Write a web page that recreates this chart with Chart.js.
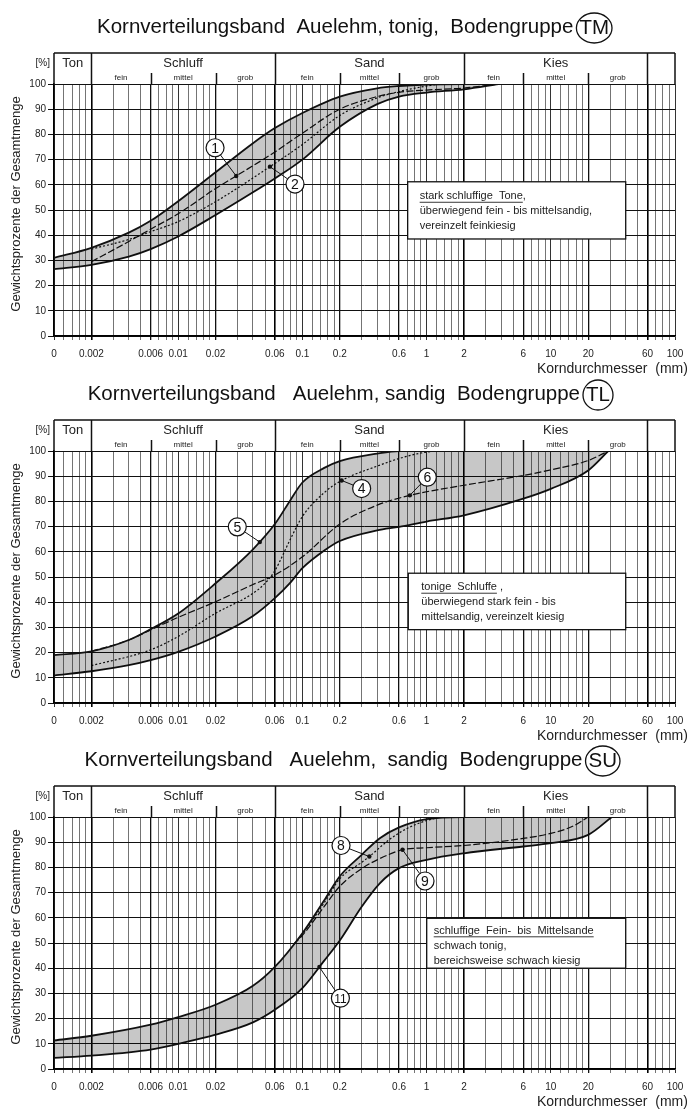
<!DOCTYPE html>
<html><head><meta charset="utf-8">
<script src="https://cdn.jsdelivr.net/npm/chart.js@4.4.0/dist/chart.umd.min.js"></script>
<style>
html,body{margin:0;padding:0;background:#fff;width:695px;height:1109px;overflow:hidden;}
#wrap{position:relative;width:695px;height:1109px;overflow:hidden;background:#fff;}
canvas{position:absolute;left:0;}
</style></head><body>
<div id="wrap">
<canvas id="cTM" width="695" height="380" style="top:0px"></canvas>
<canvas id="cTL" width="695" height="380" style="top:367px"></canvas>
<canvas id="cSU" width="695" height="380" style="top:733px"></canvas>
</div>
<script>
// ---------- axis values ----------
const xGridValues = [0.001,0.0012,0.0014,0.0016,0.0018,0.002,0.003,0.004,0.005,0.006,0.007,0.008,0.009,
  0.01,0.012,0.014,0.016,0.018,0.02,0.03,0.04,0.05,0.06,0.07,0.08,0.09,
  0.1,0.12,0.14,0.16,0.18,0.2,0.3,0.4,0.5,0.6,0.7,0.8,0.9,
  1,1.2,1.4,1.6,1.8,2,3,4,5,6,7,8,9,
  10,12,14,16,18,20,30,40,50,60,70,80,90,100];
const xLabelValues = [0.001,0.002,0.006,0.01,0.02,0.06,0.1,0.2,0.6,1,2,6,10,20,60,100];
const xLabelTexts  = ['0','0.002','0.006','0.01','0.02','0.06','0.1','0.2','0.6','1','2','6','10','20','60','100'];
const yTickValues  = [0,10,20,30,40,50,60,70,80,90,100];
const mainBounds   = [0.002,0.06,2,60];
const subBounds    = [0.006,0.02,0.2,0.6,6,20];
const decadeLines  = [0.001,0.01,0.1,1,10,100];
const groupNames   = ['Ton','Schluff','Sand','Kies'];
const groupEdges   = [0.001,0.002,0.06,2,60];
const subNames     = ['fein','mittel','grob'];

// ---------- TM ----------
const sizesTM  = [0.001,0.002,0.004,0.006,0.01,0.02,0.04,0.06,0.1,0.2,0.4,0.6,1,2,3.8];
const upperTM  = [31,35,41,45.7,53.5,65,76.5,82.5,88.5,95,98.3,99.2,99.8,100,100];
const lowerTM  = [26.5,28.2,31.5,34.5,39.5,48,57,62.5,70,83,92,95,96.6,97.9,100];
const sizesTM1 = [0.002,0.004,0.006,0.01,0.02,0.0293,0.06,0.1,0.2,0.4,0.6,1,2,3.8];
const curveTM1 = [29.5,37.5,42.4,48.5,58.5,63.5,73,80.5,90,95,96.7,97.6,98.4,100];
const sizesTM2 = [0.002,0.004,0.006,0.01,0.02,0.0548,0.1,0.2,0.4,0.6,1,1.3];
const curveTM2 = [34.5,38.3,41.4,45.4,53.3,67.2,76,87.5,94.5,97,99.2,100];

// ---------- TL ----------
const sizesTL  = [0.001,0.002,0.004,0.006,0.01,0.02,0.04,0.06,0.08,0.1,0.15,0.2,0.4,0.6,1,2,6,10,20,29];
const upperTL  = [19,20.5,25,29.3,35.5,47.5,61,71,80.5,87.5,93.3,96,99,100,100,100,100,100,100,100];
const lowerTL  = [10.9,12.6,15,17,20.3,26.4,34.5,41.6,47.8,53.5,60.5,64.3,68.5,69.9,72,74.5,81.1,85,92.3,100];
const sizesTL4 = [0.002,0.006,0.01,0.02,0.04,0.05,0.06,0.08,0.1,0.15,0.207,0.4,0.6,0.9,1.2];
const curveTL4 = [14.8,21.1,26.4,35.6,43.5,47.5,52.5,65,74,83.5,88.3,94,97,99.2,100];
const sizesTL6 = [0.002,0.004,0.006,0.0097,0.02,0.04,0.06,0.1,0.2,0.4,0.733,2,6,10,20,29];
const curveTL6 = [20.5,25,29,33.7,40.2,47,50.8,58,71,78.5,82.4,86.4,90.3,92.5,96.2,100];

// ---------- SU ----------
const sizesSU  = [0.001,0.002,0.006,0.01,0.02,0.04,0.06,0.1,0.15,0.2,0.3,0.42,0.6,1,2,6,10,20,31];
const upperSU  = [11.3,13.2,17.6,20.6,25.5,33,40.5,53.9,67,76.5,85,91.6,95.9,99.2,100,100,100,100,100];
const lowerSU  = [4.4,5.3,7.7,10,13.6,18.5,23.5,32.1,43,51,64.4,73.7,79.7,83,85.6,88.3,89.6,92.9,100];
const sizesSU8 = [0.085,0.1,0.15,0.2,0.3,0.346,0.5,0.7,1,1.3];
const curveSU8 = [49.5,53.5,66,75.5,82,84.3,91,95.5,98.6,100];
const sizesSU9 = [0.085,0.1,0.15,0.2,0.3,0.4,0.64,1,2,6,10,15,20];
const curveSU9 = [49.5,53,64.5,72.5,79.5,83,87,87.8,88.7,91.5,93.5,96.3,100];

// ---------- helpers ----------
const FONT = '"Liberation Sans", Arial, Helvetica, sans-serif';
const near = (a, b) => Math.abs(a / b - 1) < 1e-6;
const inList = (v, list) => list.some(t => near(v, t));
const zip = (xs, ys) => xs.map((x, i) => ({x, y: ys[i]}));
const PLOT_TOP = 84, PLOT_BOTTOM = 336;

function labelFor(v) {
  const i = xLabelValues.findIndex(t => near(v, t));
  return i >= 0 ? xLabelTexts[i] : '';
}
function gridColor(ctx) {
  const v = ctx.tick && ctx.tick.value;
  if (v == null) return '#777';
  if (inList(v, mainBounds)) return '#000';
  if (inList(v, subBounds)) return '#111';
  if (inList(v, decadeLines)) return '#333';
  return '#747474';
}
function gridWidth(ctx) {
  const v = ctx.tick && ctx.tick.value;
  if (v == null) return 1;
  if (inList(v, mainBounds)) return 1.6;
  if (inList(v, subBounds)) return 1.3;
  return 1;
}

function makeDeco(cfg) {
  return {
    id: 'deco' + cfg.badge,
    afterDatasetsDraw(chart) {
      const ctx = chart.ctx, xs = chart.scales.x, ys = chart.scales.y;
      ctx.save();
      // annotation box
      const b = cfg.box;
      const bx0 = xs.getPixelForValue(b.x0), bx1 = xs.getPixelForValue(b.x1);
      const by0 = ys.getPixelForValue(b.yTop), by1 = ys.getPixelForValue(b.yBottom);
      ctx.fillStyle = '#fff';
      ctx.fillRect(bx0, by0, bx1 - bx0, by1 - by0);
      ctx.strokeStyle = '#111'; ctx.lineWidth = 1.3;
      ctx.strokeRect(bx0, by0, bx1 - bx0, by1 - by0);
      ctx.font = '11px ' + FONT;
      ctx.fillStyle = '#222';
      ctx.textAlign = 'left'; ctx.textBaseline = 'middle';
      b.lines.forEach((ln, i) => {
        const tx = bx0 + b.padX, ty = by0 + b.firstY + i * b.gap;
        ctx.fillText(ln, tx, ty);
        if (i === 0 && b.underline) {
          const w = ctx.measureText(b.underline).width;
          ctx.beginPath(); ctx.lineWidth = 0.9; ctx.strokeStyle = '#222';
          ctx.moveTo(tx, ty + 6); ctx.lineTo(tx + w, ty + 6); ctx.stroke();
        }
      });
      // callouts
      cfg.callouts.forEach(c => {
        const line = chart.getDatasetMeta(c.ds).dataset;
        const px = xs.getPixelForValue(c.x);
        const pt = line.interpolate({x: px}, 'x') || {x: px, y: ys.getPixelForValue(50)};
        const lx = xs.getPixelForValue(c.lx), ly = ys.getPixelForValue(c.ly);
        const r = 9;
        const dx = pt.x - lx, dy = pt.y - ly, d = Math.hypot(dx, dy);
        ctx.beginPath(); ctx.strokeStyle = '#111'; ctx.lineWidth = 1;
        ctx.moveTo(lx + dx / d * r, ly + dy / d * r); ctx.lineTo(pt.x, pt.y); ctx.stroke();
        ctx.beginPath(); ctx.fillStyle = '#111'; ctx.arc(pt.x, pt.y, 2.2, 0, Math.PI * 2); ctx.fill();
        ctx.beginPath(); ctx.fillStyle = '#fff'; ctx.arc(lx, ly, r, 0, Math.PI * 2); ctx.fill();
        ctx.lineWidth = 1.2; ctx.stroke();
        ctx.fillStyle = '#111'; ctx.textAlign = 'center'; ctx.textBaseline = 'middle';
        ctx.font = (c.n.length > 1 ? '12px ' : '14px ') + FONT;
        ctx.fillText(c.n, lx, ly + 1);
      });
      ctx.restore();
    },
    afterDraw(chart) {
      const ctx = chart.ctx, xs = chart.scales.x;
      const ca = chart.chartArea;
      ctx.save();
      // title (right end of the badge at cfg.titleEnd)
      ctx.font = '20.5px ' + FONT;
      ctx.fillStyle = '#111'; ctx.textBaseline = 'middle'; ctx.textAlign = 'left';
      const tw = ctx.measureText(cfg.title).width;
      const bw = ctx.measureText(cfg.badge).width;
      const rx = Math.max(15, bw / 2 + 3), ry = 15;
      const total = tw + 3 + 2 * rx;
      const x0 = cfg.titleEnd - total, ty = 27;
      ctx.fillText(cfg.title, x0, ty);
      const cx = x0 + tw + 3 + rx;
      ctx.textAlign = 'center';
      ctx.fillText(cfg.badge, cx, ty + 1);
      ctx.beginPath(); ctx.ellipse(cx, ty + 1, rx, ry, 0, 0, Math.PI * 2);
      ctx.strokeStyle = '#111'; ctx.lineWidth = 1.3; ctx.stroke();

      // header band
      const hTop = 53, hBot = ca.top, subTop = 73;
      ctx.strokeStyle = '#111'; ctx.lineWidth = 1.5;
      ctx.beginPath();
      ctx.moveTo(ca.left, hTop); ctx.lineTo(ca.right, hTop);
      ctx.moveTo(ca.left, hTop); ctx.lineTo(ca.left, hBot);
      ctx.moveTo(ca.right, hTop); ctx.lineTo(ca.right, hBot);
      groupEdges.slice(1).forEach(v => {
        const p = Math.round(xs.getPixelForValue(v)) + 0.5;
        ctx.moveTo(p, hTop); ctx.lineTo(p, hBot);
      });
      subBounds.forEach(v => {
        const p = Math.round(xs.getPixelForValue(v)) + 0.5;
        ctx.moveTo(p, subTop); ctx.lineTo(p, hBot);
      });
      ctx.stroke();
      ctx.fillStyle = '#222'; ctx.textAlign = 'center'; ctx.textBaseline = 'middle';
      ctx.font = '13px ' + FONT;
      groupNames.forEach((g, i) => {
        const p = (xs.getPixelForValue(groupEdges[i]) + xs.getPixelForValue(groupEdges[i + 1])) / 2;
        ctx.fillText(g, p, 63);
      });
      ctx.font = '8px ' + FONT;
      const groupsWithSubs = [[0.002,0.006,0.02,0.06],[0.06,0.2,0.6,2],[2,6,20,60]];
      groupsWithSubs.forEach(e => {
        subNames.forEach((s, i) => {
          const p = (xs.getPixelForValue(e[i]) + xs.getPixelForValue(e[i + 1])) / 2;
          ctx.fillText(s, p, 78);
        });
      });
      ctx.font = '10px ' + FONT; ctx.textAlign = 'right';
      ctx.fillText('[%]', 50, 63);

      // axis titles
      ctx.font = '13px ' + FONT; ctx.textAlign = 'center'; ctx.fillStyle = '#222';
      ctx.save();
      ctx.translate(16, (ca.top + ca.bottom) / 2 - 6);
      ctx.rotate(-Math.PI / 2);
      ctx.fillText('Gewichtsprozente der Gesamtmenge', 0, 0);
      ctx.restore();
      ctx.font = '14px ' + FONT;
      ctx.textAlign = 'left';
      ctx.fillText('Korndurchmesser  (mm)', 537, 369);
      ctx.restore();
    }
  };
}

function buildChart(id, sizes, upper, lower, curves, cfg) {
  const canvas = document.getElementById(id);
  const H = canvas.height;
  const datasets = [
    {data: zip(sizes, upper), borderColor: '#111', borderWidth: 1.8, fill: '+1', backgroundColor: 'rgba(0,0,0,0.22)'},
    {data: zip(sizes, lower), borderColor: '#111', borderWidth: 1.8, fill: false}
  ].concat(curves.map(c => ({data: zip(c.x, c.y), borderColor: '#111', borderWidth: 1.2, borderDash: c.dash, fill: false})));
  return new Chart(canvas, {
    type: 'line',
    data: {datasets},
    options: {
      responsive: false, animation: false, devicePixelRatio: 1,
      layout: {padding: {left: 0, right: 20, top: PLOT_TOP, bottom: 0}},
      elements: {point: {radius: 0}, line: {cubicInterpolationMode: 'monotone'}},
      plugins: {legend: {display: false}, tooltip: {enabled: false}, title: {display: false}},
      scales: {
        x: {
          type: 'logarithmic', min: 0.001, max: 100,
          afterBuildTicks: s => { s.ticks = xGridValues.map(v => ({value: v})); },
          afterFit: s => { s.height = H - PLOT_BOTTOM; },
          ticks: {autoSkip: false, maxRotation: 0, minRotation: 0, padding: 8,
                  font: {size: 10, family: FONT}, color: '#222', callback: v => labelFor(v)},
          grid: {color: gridColor, lineWidth: gridWidth, tickLength: 4},
          border: {display: true, color: '#000', width: 1.5}
        },
        y: {
          type: 'linear', min: 0, max: 100,
          afterBuildTicks: s => { s.ticks = yTickValues.map(v => ({value: v})); },
          afterFit: s => { s.width = 54; },
          ticks: {padding: 2, font: {size: 10, family: FONT}, color: '#222', callback: v => String(v)},
          grid: {color: '#111', lineWidth: 1, tickLength: 6},
          border: {display: true, color: '#000', width: 1.5}
        }
      }
    },
    plugins: [makeDeco(cfg)]
  });
}

buildChart('cTM', sizesTM, upperTM, lowerTM, [
  {x: sizesTM1, y: curveTM1, dash: [7, 2.5]},
  {x: sizesTM2, y: curveTM2, dash: [2, 2]}
], {
  title: 'Kornverteilungsband  Auelehm, tonig,  Bodengruppe', badge: 'TM', titleEnd: 612,
  box: {x0: 0.704, x1: 40.1, yTop: 61.2, yBottom: 38.5, padX: 12, firstY: 14.5, gap: 15,
        underline: 'stark schluffige  Tone',
        lines: ['stark schluffige  Tone,', 'überwiegend fein - bis mittelsandig,', 'vereinzelt feinkiesig']},
  callouts: [{n: '1', ds: 2, x: 0.0293, lx: 0.0198, ly: 74.7}, {n: '2', ds: 3, x: 0.0548, lx: 0.0872, ly: 60.3}]
});

buildChart('cTL', sizesTL, upperTL, lowerTL, [
  {x: sizesTL4, y: curveTL4, dash: [2, 2]},
  {x: sizesTL6, y: curveTL6, dash: [7, 2.5]}
], {
  title: 'Kornverteilungsband   Auelehm, sandig  Bodengruppe', badge: 'TL', titleEnd: 613,
  box: {x0: 0.712, x1: 40.1, yTop: 51.5, yBottom: 29.1, padX: 13, firstY: 14, gap: 15,
        underline: 'tonige  Schluffe',
        lines: ['tonige  Schluffe ,', 'überwiegend stark fein - bis', 'mittelsandig, vereinzelt kiesig']},
  callouts: [{n: '5', ds: 0, x: 0.0454, lx: 0.0299, ly: 69.9}, {n: '4', ds: 2, x: 0.207, lx: 0.300, ly: 85.1},
             {n: '6', ds: 3, x: 0.733, lx: 1.013, ly: 89.6}]
});

buildChart('cSU', sizesSU, upperSU, lowerSU, [
  {x: sizesSU8, y: curveSU8, dash: [2, 2]},
  {x: sizesSU9, y: curveSU9, dash: [7, 2.5]}
], {
  title: 'Kornverteilungsband   Auelehm,  sandig  Bodengruppe', badge: 'SU', titleEnd: 620,
  box: {x0: 1.002, x1: 40.1, yTop: 59.8, yBottom: 40, padX: 7, firstY: 12.5, gap: 15,
        underline: 'schluffige  Fein-  bis  Mittelsande',
        lines: ['schluffige  Fein-  bis  Mittelsande', 'schwach tonig,', 'bereichsweise schwach kiesig']},
  callouts: [{n: '8', ds: 2, x: 0.346, lx: 0.2046, ly: 88.7}, {n: '9', ds: 3, x: 0.64, lx: 0.971, ly: 74.6},
             {n: '11', ds: 1, x: 0.137, lx: 0.2023, ly: 28.1}]
});
</script>
</body></html>
